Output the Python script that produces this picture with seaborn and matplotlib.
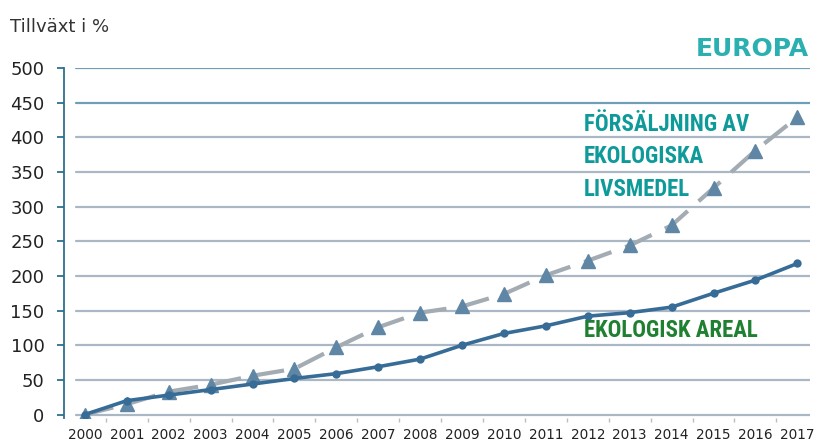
import matplotlib.pyplot as plt
import seaborn as sns
import pandas as pd

years = list(range(2000, 2018))
areal = [0, 20, 28, 36, 44, 52, 59, 69, 80, 100, 117, 128, 142, 147, 155, 175, 194, 218]
forsaljning = [0, 15, 33, 43, 56, 66, 97, 126, 147, 156, 174, 201, 222, 244, 273, 327, 381, 429]
yticks = [0, 50, 100, 150, 200, 250, 300, 350, 400, 450, 500]

df = pd.DataFrame({'year': years, 'areal': areal, 'forsaljning': forsaljning})

sns.set_style('white')
plt.rcParams['font.family'] = ['DejaVu Sans']

fig = plt.figure(figsize=(8.17, 4.44), dpi=100)
ax = fig.add_axes([0.0783, 0.0586, 0.913, 0.788])

# gridlines (start a bit right of the spine like the original)
for y in yticks:
    col = '#6f9fb8' if y >= 450 else '#aab7c4'
    ax.axhline(y, xmin=0.016, color=col, lw=1.6, zorder=0)

sns.lineplot(data=df, x='year', y='forsaljning', ax=ax, color='#a3abb3', lw=3,
             zorder=2)
ax.lines[-1].set_dashes([7, 3.5])
ax.plot(df['year'], df['forsaljning'], ls='none', marker='^', ms=9.5,
        color='#5f87a5', zorder=3)
sns.lineplot(data=df, x='year', y='areal', ax=ax, color='#376c97', lw=2.6,
             marker='o', markersize=6, markeredgewidth=0, zorder=4)

ax.set_xlim(1999.5, 2017.3)
ax.set_ylim(-5, 500)
ax.set_yticks(yticks)
ax.set_xticks(years)
ax.set_xticks([y + 0.5 for y in years[:-1]], minor=True)
ax.set_xlabel('')
ax.set_ylabel('')

for s in ['top', 'right', 'bottom']:
    ax.spines[s].set_visible(False)
ax.spines['left'].set_color('#2f6f8f')
ax.spines['left'].set_linewidth(1.3)

ax.tick_params(axis='y', left=True, length=5, width=1.3, color='#2f6f8f',
               pad=9, labelsize=13, labelcolor='#222222')
ax.tick_params(axis='x', which='major', bottom=False, length=0, pad=7,
               labelsize=9.8, labelcolor='#222222')
ax.tick_params(axis='x', which='minor', bottom=True, length=3, width=1,
               color='#b5bfc8')

fig.text(0.012, 0.94, 'Tillväxt i %', fontsize=13, color='#333333',
         ha='left', va='center')
fig.text(0.99, 0.89, 'EUROPA', fontsize=18, fontweight='bold', color='#2ab0b0',
         ha='right', va='center')

cond = ['Roboto Condensed', 'Liberation Sans Narrow', 'Roboto']
ax.text(0.697, 0.873, 'FÖRSÄLJNING AV\nEKOLOGISKA\nLIVSMEDEL', transform=ax.transAxes,
        fontsize=16.5, fontweight='bold', color='#0f9a9a', family=cond,
        ha='left', va='top', linespacing=1.55)
ax.text(0.697, 0.249, 'EKOLOGISK AREAL', transform=ax.transAxes,
        fontsize=16.5, fontweight='bold', color='#1e8030', family=cond,
        ha='left', va='center')

fig.savefig('out.png', dpi=100)
